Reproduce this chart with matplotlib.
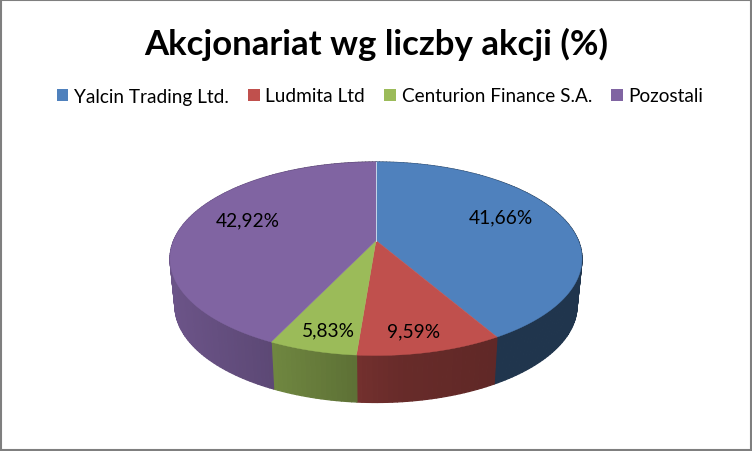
import numpy as np
import matplotlib
matplotlib.use("Agg")
import matplotlib.pyplot as plt
from matplotlib.patches import Patch, Polygon, Rectangle
from matplotlib.collections import PolyCollection

title = "Akcjonariat wg liczby akcji (%)"
names = ["Yalcin Trading Ltd.", "Ludmita Ltd", "Centurion Finance S.A.", "Pozostali"]
shares = [41.66, 9.59, 5.83, 42.92]
colors = ["#4F81BD", "#C0504D", "#9BBB59", "#8064A2"]
label_pos = [(501, 218), (414, 332), (328, 331), (248, 221)]

plt.rcParams["font.family"] = ["Lato", "DejaVu Sans"]

# perspective of the disc, in pixels of the picture
CX, CY = 376, 241.5
A, B, K = 202.3, 93.3, 0.1886
DEPTH = 47
SHRINK = 0.976


def rim(angle, scale=1.0, drop=0):
    # angle in radians, clockwise from 12 o'clock
    x, y = np.sin(angle), np.cos(angle)
    w = 1 + K * y
    return CX + scale * A * x / w, CY - B * y / w + drop


def shade(angle):
    # the side wall is lit from the left
    x = rim(angle)[0]
    return np.interp(x, [170, 272, 357, 400, 495, 498, 582],
                     [0.84, 0.72, 0.60, 0.54, 0.50, 0.41, 0.41])


fig = plt.figure(figsize=(7.52, 4.52), dpi=100)
ax = fig.add_axes([0, 0, 1, 1])
ax.set_xlim(0, 752)
ax.set_ylim(452, 0)
ax.axis("off")

edges = np.concatenate([[0], np.cumsum(shares)]) / sum(shares) * 2 * np.pi

# side walls first, the top covers the back part
for i, c in enumerate(colors):
    t = np.linspace(edges[i], edges[i + 1], max(int((edges[i + 1] - edges[i]) * 50), 12))
    quads = []
    faces = []
    base = np.array(matplotlib.colors.to_rgb(c))
    for a0, a1 in zip(t[:-1], t[1:]):
        quads.append([rim(a0), rim(a1),
                      rim(a1, SHRINK, DEPTH), rim(a0, SHRINK, DEPTH)])
        faces.append(base * shade((a0 + a1) / 2))
    ax.add_collection(PolyCollection(quads, facecolors=faces, edgecolors=faces, linewidths=0.9))

for i, c in enumerate(colors):
    t = np.linspace(edges[i], edges[i + 1], 200)
    xs, ys = rim(t)
    pts = np.column_stack([np.r_[CX, xs], np.r_[CY, ys]])
    ax.add_patch(Polygon(pts, closed=True, facecolor=c, edgecolor=c, linewidth=0.3))

# thin light line where blue meets purple
x0, y0 = rim(0.0)
ax.plot([x0, CX], [y0, CY], color="#C6D6EA", lw=0.7)

for v, (x, y) in zip(shares, label_pos):
    txt = f"{v:.2f}%".replace(".", ",")
    ax.text(x, y, txt, ha="center", va="center", fontsize=13.8, color="black")

ax.text(376, 44, title, ha="center", va="center", fontsize=25, fontweight="bold", color="black")

handles = [Patch(facecolor=c, edgecolor="none") for c in colors]
ax.legend(handles, names, ncol=4, loc="center", bbox_to_anchor=(380, 97),
          bbox_transform=ax.transData, frameon=False, fontsize=13.7,
          handlelength=0.62, handleheight=0.62, handletextpad=0.3,
          columnspacing=1.0, borderpad=0, labelcolor="black")

ax.add_patch(Rectangle((1, 1), 750, 450, fill=False, edgecolor="#7F7F7F", linewidth=1.5))

fig.savefig("out.png", dpi=100, facecolor="white")
